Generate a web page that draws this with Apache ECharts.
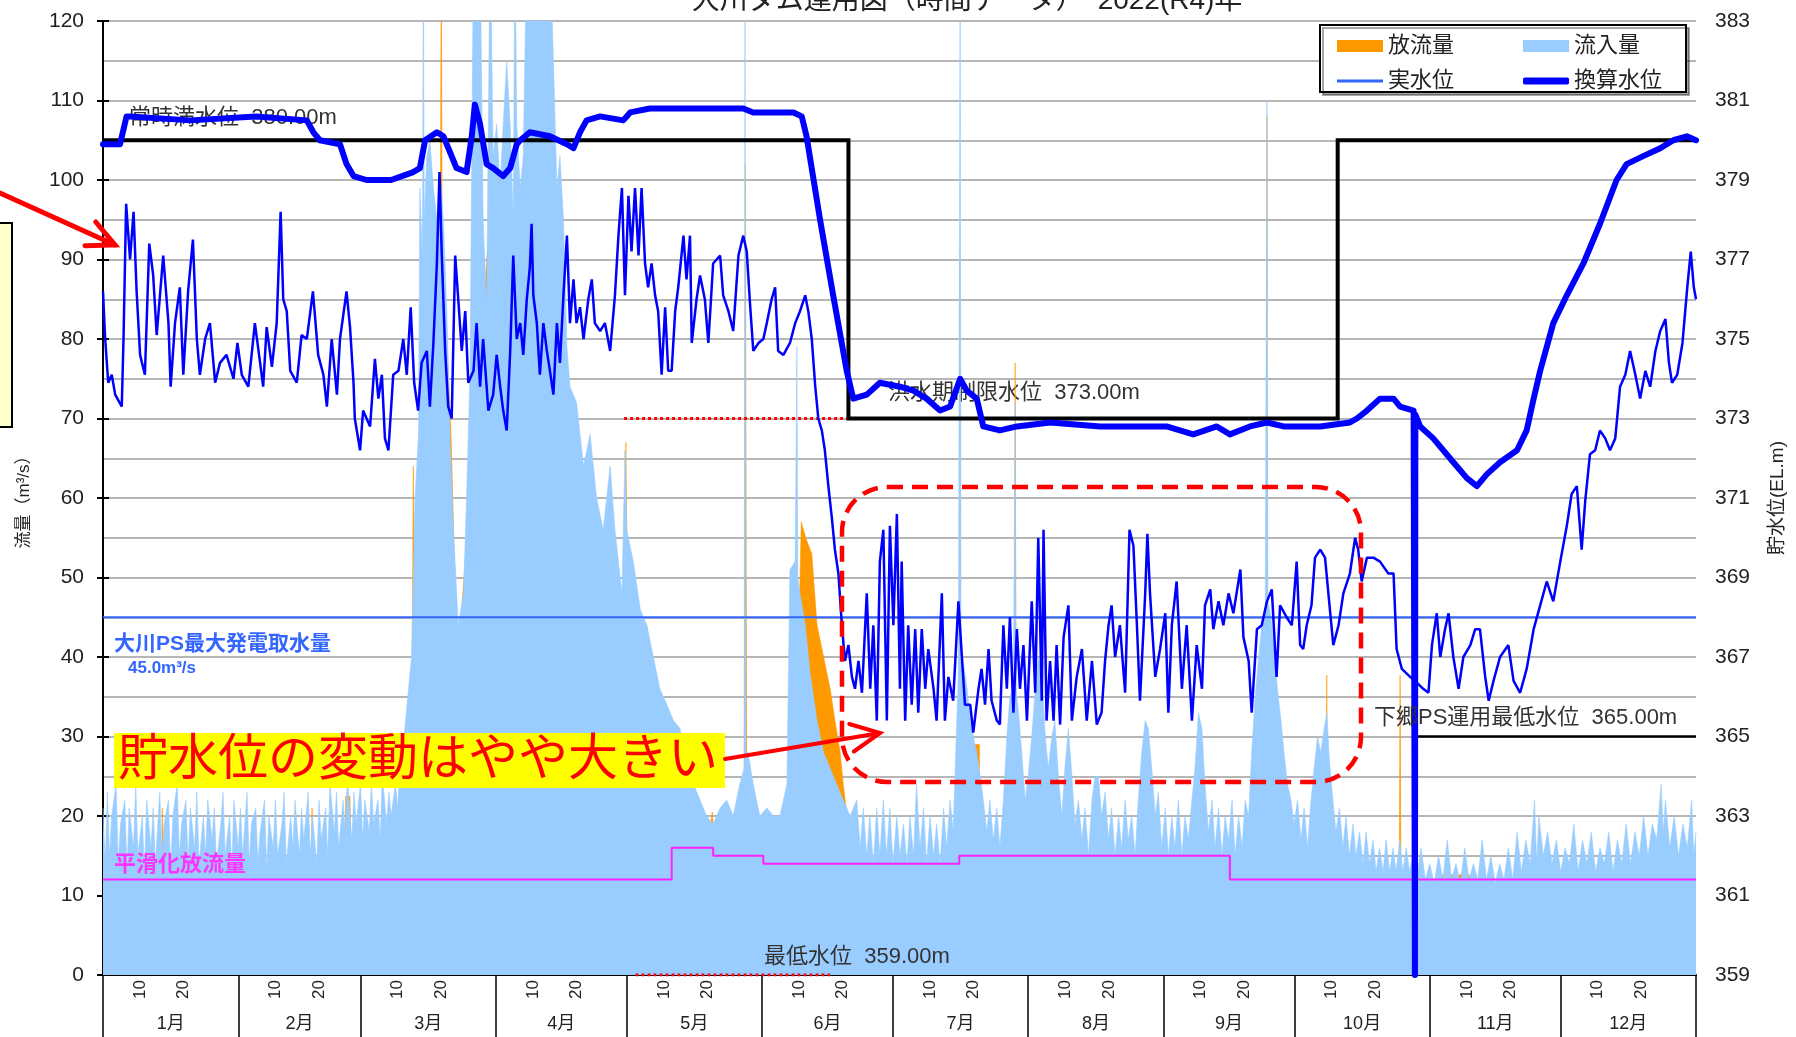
<!DOCTYPE html>
<html><head><meta charset="utf-8">
<script src="https://cdn.jsdelivr.net/npm/echarts@6/dist/echarts.min.js"></script>
<style>html,body{margin:0;padding:0;background:#fff}#c{width:1796px;height:1037px}</style>
</head><body><div id="c"></div>
<script>
// ---------- DATA (x = days since 1 Jan 2022) ----------
const monthStarts = [0,31,59,90,120,151,181,212,243,273,304,334,365];
const monthNames = ['1月','2月','3月','4月','5月','6月','7月','8月','9月','10月','11月','12月'];
const dayMarks = [10, 20];
const flowTicks = [0,10,20,30,40,50,60,70,80,90,100,110,120];
const levelTicks = [359,361,363,365,367,369,371,373,375,377,379,381,383];

// 流入量 (m3/s)
const inflow = [
[0,21],[0.5,14],[1,23],[1.5,15],[2,20],[3,24],[3.5,14],[4,19],[5,22],[5.5,13],[6,21],[7,16],[7.5,24],[8,15],[9,20],[9.5,13],[10,22],[11,16],[11.5,21],[12,14],[13,23],[13.5,15],[14,19],[15,22],[15.5,13],[16,20],[17,24],[17.5,15],[18,19],[19,22],[19.5,14],[20,21],[21,16],[21.5,23],[22,14],[23,20],[23.5,15],[24,22],[25,17],[25.5,21],[26,14],[27,19],[27.5,23],[28,15],[29,20],[29.5,13],[30,22],[31,16],[31.5,21],[32,15],[33,23],[33.5,14],[34,19],[35,21],[35.5,14],[36,18],[37,22],[37.5,13],[38,20],[39,16],[39.5,22],[40,15],[41,19],[41.5,23],[42,14],[43,20],[43.5,16],[44,22],[45,15],[45.5,21],[46,17],[47,23],[47.5,15],[48,20],[49,14],[49.5,22],[50,17],[51,21],[51.5,15],[52,24],[53,18],[53.5,23],[54,16],[55,22],[55.5,18],[56,25],[57,17],[57.5,23],[58,19],[59,24],[59.5,17],[60,22],[61,18],[61.5,24],[62,19],[63,22],[63.5,17],[64,25],[65,19],[65.5,23],[66,20],[67,24],[67.5,21],[68,26],[69,30],[69.5,33],[70,36],[70.7,40],[71.5,60],[72.3,68],[72.6,99],[73.2,90],[73.4,130],[73.6,95],[74.2,103],[74.9,105],[75.7,99],[76.5,95],[77.2,101],[78,95],[78.8,83],[79.5,68],[80.3,56],[81.4,44],[82.6,48],[83.3,60],[84.1,76],[84.9,130],[85.6,130],[86.4,130],[87.1,95],[87.9,84],[88.7,130],[89.4,103],[90.2,107],[91,99],[91.7,107],[92.5,115],[93.3,107],[94,95],[94.4,130],[94.8,107],[95.6,99],[96.3,103],[97.1,130],[98.6,130],[100.9,130],[102.4,130],[103.2,115],[104,99],[104.7,103],[105.5,95],[106.3,79],[107,74],[108.5,72],[110.1,64],[111.6,68],[113.1,60],[114.6,56],[116.2,64],[117.3,56],[118.9,48],[119.6,66],[120,56],[121.5,52],[123.1,46],[124.6,44],[126.1,40],[127.6,36],[129.2,34],[130.7,32],[132.2,31],[133.7,27],[135.3,24],[136.8,22],[138.3,20],[139.8,19],[141.4,21],[142.9,22],[144.4,20],[145.9,24],[146.9,26],[147.1,130],[147.3,28],[147.8,28],[149,24],[150.5,20],[152.1,21],[153.6,20],[155.1,20],[156.7,24],[157.4,51],[158.6,52],[159,79],[159.2,50],[159.7,48],[160.9,44],[162,38],[163.6,32],[165.1,28],[166.6,26],[168.1,24],[169.6,22],[171.2,20],[172.7,22],
[173.5,16],[174.2,21],[175,15],[175.7,20],[176.5,14],[177.3,21],[178,15],[178.8,22],[179.5,15],[180.3,21],[181,14],[181.9,20],[182.6,15],[183.4,19],[184.2,14],[184.9,20],[185.7,15],[186.4,24],[187.2,16],[188,21],[188.7,14],[189.5,20],[190.3,15],[191,19],[191.8,14],[192.6,21],[193.3,16],[194.1,22],[194.8,18],[195.5,30],[196,38],[196.4,130],[196.6,40],[197.2,39],[198,36],[198.7,32],[199.4,30],[200.2,28],[201,25],[201.7,22],[202.5,18],[203.2,22],[204,17],[204.8,21],[205.5,16],[206.3,22],[207.1,30],[207.8,35],[208.6,36],[209,72],[209.2,36],[209.8,33],[210.5,28],[211.3,22],[212,25],[212.8,30],[213.6,36],[214.3,40],[215.1,38],[215.9,30],[216.6,26],[217.4,30],[218.1,32],[218.9,25],[219.7,20],[220.4,26],[221.2,31],[222,25],[222.7,19],[223.5,22],[224.3,17],[225,21],[225.8,15],[226.6,22],[227.3,25],[228.1,25],[228.8,20],[229.6,23],[230.4,17],[231.1,21],[231.9,15],[232.7,20],[233.4,16],[234.2,22],[234.9,17],[235.7,20],[236.5,15],[237.2,22],[238,28],[238.8,32],[239.5,31],[240.3,26],[241.1,20],[241.8,23],[242.6,16],[243.4,21],[244.1,15],[244.9,20],[245.6,16],[246.4,22],[247.2,15],[247.9,20],[248.7,17],[249.5,22],[250.2,26],[251,33],[251.8,31],[252.5,24],[253.3,18],[254.1,22],[254.8,16],[255.6,21],[256.4,15],[257.1,20],[257.9,17],[258.7,22],[259.4,15],[260.2,20],[261,16],[261.7,22],[262.5,20],[263.2,28],[264,35],[264.8,40],[265.5,44],[266.3,46],[266.7,110],[266.9,47],[267.6,45],[268.4,40],[269.1,36],[269.9,32],[270.6,28],[271.4,24],[272.2,22],[272.9,19],[273.7,22],[274.5,17],[275.2,21],[276,16],[276.8,22],[277.5,26],[278.3,30],[279,28],[279.8,31],[280.4,33],[281,27],[281.8,22],[282.5,18],[283.3,21],[284.1,16],[284.8,20],[285.6,15],[286.4,19],[287.1,15],[287.9,18],[288.7,14],[289.4,18],[290.2,14],[291,17],[291.7,13],[292.5,16],[293.3,13],[294,17],[294.8,13],[295.6,16],[296.3,13],[297.1,17],[297.8,13],[298.6,16],[299.4,13],[300.1,15],
[301,12],[302,16],[303,12],[304,14],[305,11.5],[306,15],[307,12],[308,17],[309,12],[310,14],[311,11.5],[312,16],[313,12],[314,14],[315,12],[316,17],[317,12],[318,15],[319,11.5],[320,14],[321,12],[322,16],[323,12],[324,18],[325,13],[326,17],[327,14],[328,22],[328.5,14],[329,20],[330,15],[331,18],[332,14],[333,17],[334,13],[335,16],[336,14],[337,19],[338,13],[339,17],[340,14],[341,18],[342,13],[343,16],[344,14],[345,18],[346,13],[347,17],[348,14],[349,19],[350,14],[351,18],[352,15],[353,20],[354,15],[355,19],[356,17],[357,24],[357.5,18],[358,22],[359,16],[360,20],[361,15],[362,19],[363,16],[364,22],[364.5,15],[365,18]
];

// 放流量 (m3/s)
const outflow = [
[0,12],[13.4,12],[13.6,21],[13.9,12],[47.7,12],[47.9,21],[48.2,12],[55.4,12],[55.6,22.5],[56.6,22.5],[56.8,12],[68,15],[70.8,35],[71.1,64],[71.4,45],[72.6,70],[77.3,95],[77.5,130],[77.7,95],[79.8,67],[80.2,67],[80.6,50],[81.4,40],[88.6,95],[88.8,130],[89,100],[92,100],[106.8,71],[107.2,71],[108.5,60],[110,55],[113,50],[116,45],[118.9,42],[119.6,45],[119.8,67],[120.2,45],[123.1,40],[124.6,44],[125,44],[126.1,36],[128,30],[131,27],[134,22],[137,19],[139,18],[139.6,20.5],[140,17],[146.9,18],[147.2,102],[147.5,20],[150,17],[157.3,17],[157.5,40],[159.5,45],[160,57],[161,55],[162.4,53],[163.6,44],[165.1,40],[166.6,36],[167.7,32],[168.9,28],[169.6,24],[170.5,20],[172,13],[196.1,13],[196.3,90],[196.6,13],[199.5,13],[199.6,29],[200.8,29],[200.9,13],[208.8,13],[209,77],[209.3,13],[266.5,13],[266.7,108],[266.9,13],[280.2,12],[280.4,37.7],[280.6,12],[297,12],[297.2,37.7],[297.4,12],[301,11.8],[305,11.8],[306,12.6],[313,12.6],[314,11.5],[365,11.5]
];

// 実水位 (EL.m)
const actualLevel = [
[0,376.2],[0.5,375.0],[0.8,375.0],[1.2,373.9],[2.0,374.1],[2.8,373.6],[4.3,373.3],[4.7,375.0],[5.3,378.4],[6.2,377.0],[7.0,378.2],[7.7,376.2],[8.5,374.6],[9.6,374.1],[10.6,377.4],[11.5,376.6],[12.3,375.1],[13.8,377.1],[15.0,375.4],[15.5,373.8],[16.5,375.4],[17.6,376.3],[18.4,374.1],[19.5,376.2],[20.6,377.5],[21.5,375.0],[22.2,374.1],[23.4,375.0],[24.5,375.4],[25.7,373.9],[26.8,374.4],[28.3,374.6],[29.9,374.0],[30.8,374.9],[31.8,374.1],[33.3,373.8],[34.8,375.4],[36.0,374.4],[36.7,373.8],[37.5,375.3],[38.7,374.3],[39.8,375.4],[40.7,378.2],[41.3,376.0],[42.1,375.7],[42.9,374.2],[44.4,373.9],[45.5,375.1],[46.7,375.0],[48.1,376.2],[49.3,374.6],[50.5,374.1],[51.3,373.3],[52.4,375.0],[53.6,373.6],[54.3,375.0],[55.8,376.2],[56.6,375.3],[57.4,373.9],[57.7,373.0],[58.9,372.2],[59.6,373.2],[61.2,372.8],[62.3,374.5],[63.1,373.5],[63.9,374.1],[64.6,372.5],[65.4,372.2],[66.5,374.1],[67.7,374.2],[68.8,375.0],[69.6,374.1],[70.5,375.8],[71.3,373.9],[72.2,373.2],[73.0,374.4],[74.2,374.7],[74.9,373.3],[75.7,374.9],[76.5,376.9],[77.1,379.2],[77.6,377.2],[78.4,374.7],[79.1,373.3],[79.9,373.0],[80.7,377.1],[81.4,376.0],[82.2,374.7],[83.0,375.7],[83.7,373.9],[84.9,374.2],[85.6,375.4],[86.4,373.8],[87.1,375.0],[88.3,373.2],[89.4,373.6],[90.2,374.6],[91.0,373.8],[91.7,373.2],[92.5,372.7],[93.3,374.7],[94.0,377.1],[94.8,375.0],[95.6,375.4],[96.3,374.6],[97.1,376.0],[97.8,376.8],[98.2,377.9],[98.6,376.1],[99.4,375.4],[100.1,374.1],[100.9,375.4],[101.7,374.7],[102.4,374.2],[103.2,373.6],[104.0,375.4],[104.7,374.4],[105.5,376.1],[106.3,377.6],[107.0,375.4],[107.8,376.5],[108.5,375.4],[109.3,375.8],[110.1,375.0],[111.2,376.0],[112.0,376.5],[112.7,375.4],[113.9,375.2],[115.0,375.4],[116.2,374.7],[117.3,376.1],[118.1,377.6],[118.9,378.8],[119.6,376.1],[120.4,378.6],[121.1,377.2],[121.9,378.8],[122.7,377.1],[123.4,378.8],[124.2,376.9],[124.9,376.3],[125.7,376.9],[126.5,376.1],[127.2,375.7],[128.0,374.1],[128.8,375.8],[129.5,374.2],[130.3,374.2],[131.1,375.7],[131.8,376.3],[133.0,377.6],[133.7,376.5],[134.5,377.6],[134.9,374.9],[136.0,376.0],[136.8,376.6],[137.9,376.0],[138.7,374.9],[139.8,376.9],[141.4,377.1],[142.1,376.1],[143.3,375.7],[144.4,375.2],[145.6,377.1],[146.7,377.6],[147.5,377.2],[148.3,375.8],[149.0,374.7],[150.2,374.9],[151.3,375.0],[152.1,375.4],[153.2,376.0],[154.0,376.3],[154.7,374.7],[155.9,374.6],[157.4,374.9],[158.6,375.4],[159.7,375.7],[160.9,376.1],[161.6,375.7],[162.4,375.0],[163.2,373.8],[163.9,373.0],[164.7,372.7],[165.4,372.2],[166.2,371.3],[167.0,370.5],[167.7,369.7],[168.5,369.1],[169.3,367.8],[170.0,366.9],[170.8,367.3],[171.6,366.5],[172.3,366.2],[173.1,366.9],[173.9,366.1],[175.0,368.6],[175.8,366.2],[176.5,367.8],[177.3,365.4],[178.0,369.4],[178.8,370.2],[179.6,365.4],[180.3,370.3],[181.1,367.8],[181.9,370.6],[182.6,366.2],
[183.0,369.4],[183.8,365.4],[184.5,367.8],[185.3,365.8],[186.1,367.7],[186.8,365.6],[187.6,367.7],[188.4,366.2],[189.1,367.2],[190.3,366.2],[191.0,365.4],[192.2,368.6],[192.9,365.4],[193.7,366.5],[194.8,365.9],[196.0,368.4],[196.8,367.0],[197.5,365.8],[198.7,365.8],[199.4,365.1],[200.6,366.2],[201.3,366.7],[202.1,365.8],[202.9,367.2],[203.6,365.9],[204.8,365.4],[205.5,365.3],[206.3,367.8],[207.1,366.2],[207.8,368.0],[208.6,365.6],[209.4,367.7],[210.1,366.2],[210.9,367.3],[211.7,365.4],[212.8,368.4],[213.6,366.1],[214.3,370.0],[215.1,365.9],[215.5,370.2],[216.2,365.4],[217.0,366.9],[217.8,365.4],[218.5,367.3],[219.3,365.3],[220.1,367.5],[221.2,368.3],[222.0,365.4],[223.1,366.5],[224.3,367.2],[225.4,365.4],[226.6,366.9],[227.7,365.3],[228.8,365.6],[229.6,366.9],[230.4,367.8],[231.1,368.3],[231.9,367.0],[233.0,367.8],[234.2,366.1],[235.2,370.2],[236.1,369.8],[236.9,367.8],[237.6,365.9],[238.8,368.6],[239.3,370.1],[239.9,368.6],[241.1,366.5],[242.2,367.2],[243.4,368.1],[244.1,365.6],[244.9,367.8],[246.0,368.9],[247.2,366.2],[248.3,367.8],[249.5,365.4],[250.6,367.3],[251.8,366.2],[252.5,368.3],[253.7,368.7],[254.4,367.7],[255.6,368.4],[256.7,367.8],[257.9,368.6],[259.0,368.1],[260.6,369.2],[261.3,367.5],[262.5,366.9],[263.2,365.6],[264.4,367.7],[265.5,367.8],[266.7,368.4],[267.8,368.7],[268.9,366.5],[269.7,368.3],[271.2,368.0],[272.4,367.8],[273.5,369.4],[274.3,367.3],[275.0,367.2],[275.8,367.8],[276.9,368.3],[277.7,369.5],[278.9,369.7],
[280.0,369.5],[281.2,368.1],[281.9,367.3],[283.1,367.8],[284.2,368.6],[285.7,369.1],[286.9,370.0],[287.6,369.7],[288.4,368.9],[289.6,369.5],[291.1,369.5],[292.6,369.4],[294.5,369.1],[295.7,369.1],[296.4,367.2],[297.6,366.7],[299.5,366.5],[300.6,366.4],[302.5,366.2],[303.7,366.1],[304.5,367.3],[305.6,368.1],[306.4,367.0],[307.5,367.7],[308.3,368.1],[309.4,367.0],[310.6,366.2],[311.7,367.0],[313.3,367.3],[314.4,367.7],[315.5,367.7],[316.7,366.5],[317.5,365.9],[318.6,366.4],[320.1,367.0],[322.0,367.3],[323.2,366.4],[324.7,366.1],[326.2,366.7],[327.8,367.7],[329.3,368.3],[330.8,368.9],[332.3,368.4],[333.9,369.4],[335.4,370.3],[336.5,371.1],[337.7,371.3],[338.8,369.7],[339.6,370.9],[340.7,372.1],[341.9,372.2],[343.0,372.7],[344.2,372.5],[345.3,372.2],[346.5,372.5],[347.6,373.8],[348.8,374.1],[349.9,374.7],[351.1,374.1],[352.2,373.5],[353.4,374.2],[354.5,373.8],[355.7,374.7],[356.8,375.2],[358.0,375.5],[358.8,374.4],[359.5,373.9],[360.7,374.1],[361.9,374.9],[363.0,376.3],[363.8,377.2],[364.5,376.3],[365,376.0]
];

// 換算水位 (EL.m)
const convertedLevel = [
[0,379.9],[3.9,379.9],[5.4,380.6],[6.2,380.6],[20,380.5],[35,380.6],[46.7,380.5],[48.2,380.2],[49.7,380.0],[54.3,379.9],[55.8,379.4],[57.4,379.1],[60.4,379.0],[66,379.0],[71.1,379.2],[72.6,379.3],[73.8,380.0],[76.5,380.2],[78.0,380.1],[79.5,379.7],[81.0,379.3],[83.3,379.2],[84.5,380.1],[85.2,380.9],[86.4,380.4],[87.9,379.4],[89.4,379.3],[91.7,379.1],[93.3,379.3],[94.8,379.9],[95.6,380.0],[97.8,380.2],[102.4,380.1],[106.3,379.9],[107.8,379.8],[109.3,380.2],[110.8,380.5],[113.9,380.6],[119.2,380.5],[120.8,380.7],[125.3,380.8],[136.8,380.8],[146.7,380.8],[149.0,380.7],[158.2,380.7],[160.1,380.6],[161.2,380.1],[164.3,378.0],[167.3,376.1],[170.4,374.2],[171.9,373.5],[175.0,373.6],[178.0,373.9],[182.6,373.8],[185.7,373.7],[188.7,373.5],[191.8,373.2],[194.1,373.3],[196.4,374.0],[197.9,373.7],[200.2,373.5],[201.7,372.8],[205.5,372.7],[209.4,372.8],[217.0,372.9],[228.5,372.8],[236.1,372.8],[243.7,372.8],[249.8,372.6],[255.2,372.8],[258.2,372.6],[262.8,372.8],[266.7,372.9],[270.5,372.8],[274.3,372.8],[278.9,372.8],[285.7,372.9],[287.3,373.0],[289.6,373.2],[292.6,373.5],[295.7,373.5],[297.2,373.3],[300.3,373.2],[300.6,359],[300.7,373.1],[301.8,372.8],[304.8,372.5],[309.4,371.9],[312.5,371.5],[314.8,371.3],[317.1,371.6],[320.1,371.9],[324.0,372.2],[326.2,372.7],[327.8,373.5],[329.3,374.2],[332.3,375.4],[335.4,376.1],[339.2,376.9],[343.0,377.9],[346.8,379.0],[349.1,379.4],[352.9,379.6],[356.8,379.8],[359.8,380.0],[362.9,380.1],[365,380.0]
];

// reference lines
const smoothRelease = [[0,12],[130.3,12],[130.3,16],[139.8,16],[139.8,15],[151.3,15],[151.3,14],[196.2,14],[196.2,15],[258.2,15],[258.2,12],[365,12]];
const maxIntake = [[0,45],[365,45]];
const seasonLimit = [[0,380],[170.8,380],[170.8,373],[282.9,373],[282.9,380],[365,380]];
const minOperation = [[300.6,365],[365,365]];
const redRefUpper = [[119.4,373],[170.8,373]];
const redRefLower = [[122,359],[166.6,359]];

// ---------- CHART ----------
const FONT = "'Liberation Sans', Arial, 'Noto Sans CJK JP', sans-serif";
const dayLabelVals = [], dayLabelMap = {};
monthStarts.slice(0,12).forEach(s => dayMarks.forEach(d => { const v = s + d - 1.5; dayLabelVals.push(v); dayLabelMap[v.toFixed(2)] = String(d); }));
const monthMids = [], monthMap = {};
for (let i = 0; i < 12; i++) { const v = (monthStarts[i] + monthStarts[i+1]) / 2; monthMids.push(v); monthMap[v.toFixed(2)] = monthNames[i]; }

function arrow(x1, y1, x2, y2, len, w) {
  const a = Math.atan2(y2 - y1, x2 - x1), sp = 0.45;
  const p1 = [x2 - len * Math.cos(a - sp), y2 - len * Math.sin(a - sp)];
  const p2 = [x2 - len * Math.cos(a + sp), y2 - len * Math.sin(a + sp)];
  return [
    {type:'line', shape:{x1,y1,x2,y2}, style:{stroke:'#ff0000', lineWidth:w, lineCap:'round'}, z:100},
    {type:'polyline', shape:{points:[p1,[x2,y2],p2]}, style:{stroke:'#ff0000', lineWidth:w, fill:null, lineJoin:'miter', lineCap:'round'}, z:100}
  ];
}
function txt(x, y, t, size, color, weight, z, align) {
  return {type:'text', x, y, z: z, style:{text:t, font:`${weight||'normal'} ${size}px ${FONT}`, fill:color, align: align||'left', verticalAlign:'middle', textAlign: align||'left', textVerticalAlign:'middle'}};
}
const legendText = {fontSize:22, color:'#222', fontFamily:FONT};

const chart = echarts.init(document.getElementById('c'), null, {renderer:'canvas'});
const option = {
  animation:false,
  backgroundColor:'#fff',
  textStyle:{fontFamily:FONT},
  grid:{left:103, right:100, top:21, bottom:62, containLabel:false},
  legend:[
    {data:[{name:'放流量',icon:'rect'},{name:'流入量',icon:'rect'}], left:1332, top:30, itemWidth:46, itemHeight:12, itemGap:69, selectedMode:false, z:6, textStyle:legendText},
    {data:[{name:'実水位',icon:'rect',itemStyle:{color:'#3366ff'}}], left:1332, top:65, itemWidth:46, itemHeight:3, selectedMode:false, z:6, textStyle:legendText},
    {data:[{name:'換算水位',icon:'roundRect',itemStyle:{color:'#0000ff'}}], left:1518, top:65, itemWidth:46, itemHeight:7, selectedMode:false, z:6, textStyle:legendText}
  ],
  xAxis:[
    {type:'value', min:0, max:365, position:'bottom',
     axisLine:{show:true, onZero:false, lineStyle:{color:'#000', width:2}},
     axisTick:{show:true, customValues:monthStarts, length:62, inside:false, lineStyle:{color:'#000', width:1.5}},
     axisLabel:{customValues:dayLabelVals, rotate:90, margin:5, fontSize:17, color:'#222', fontFamily:FONT,
                formatter:v => dayLabelMap[(+v).toFixed(2)] || ''},
     splitLine:{show:false}},
    {type:'value', min:0, max:365, position:'bottom', offset:0,
     axisLine:{show:false}, axisTick:{show:false}, splitLine:{show:false},
     axisLabel:{customValues:monthMids, margin:40, fontSize:18, color:'#222', fontFamily:FONT,
                formatter:v => monthMap[(+v).toFixed(2)] || ''}}
  ],
  yAxis:[
    {type:'value', min:0, max:120, interval:10, position:'left',
     name:'流量（m³/s）', nameLocation:'middle', nameRotate:90, nameGap:70,
     nameTextStyle:{fontSize:17, color:'#222', fontFamily:FONT},
     axisLine:{show:true, lineStyle:{color:'#000', width:2}},
     axisTick:{show:true, inside:true, length:6, lineStyle:{color:'#000', width:2}},
     axisLabel:{fontSize:21, color:'#222', margin:19, fontFamily:FONT, customValues:flowTicks},
     splitLine:{show:true, lineStyle:{color:'#9e9e9e', width:1.5}},
     minorTick:{show:false, splitNumber:2},
     minorSplitLine:{show:true, lineStyle:{color:'#9e9e9e', width:1.5}}},
    {type:'value', min:359, max:383, position:'right',
     name:'貯水位(EL.m)', nameLocation:'middle', nameRotate:90, nameGap:72,
     nameTextStyle:{fontSize:19, color:'#222', fontFamily:FONT},
     axisLine:{show:true, lineStyle:{color:'#000', width:2}},
     axisTick:{show:true, inside:true, length:6, customValues:levelTicks, lineStyle:{color:'#000', width:2}},
     axisLabel:{customValues:levelTicks, fontSize:21, color:'#222', margin:19, fontFamily:FONT},
     splitLine:{show:false}}
  ],
  series:[
    {name:'放流量', type:'line', data:outflow, yAxisIndex:0, symbol:'none', z:1,
     itemStyle:{color:'#ff9900'}, lineStyle:{width:0.6, color:'#ff9900'}, areaStyle:{color:'#ff9900', opacity:1}},
    {name:'流入量', type:'line', data:inflow, yAxisIndex:0, symbol:'none', z:2,
     itemStyle:{color:'#99ccff'}, lineStyle:{width:0.6, color:'#99ccff'}, areaStyle:{color:'#99ccff', opacity:1}},
    {name:'平滑化放流量', type:'line', data:smoothRelease, yAxisIndex:0, symbol:'none', z:3, lineStyle:{width:2, color:'#ff22ff'}},
    {name:'大川PS最大発電取水量', type:'line', data:maxIntake, yAxisIndex:0, symbol:'none', z:3, lineStyle:{width:2, color:'#3366ff'}},
    {name:'ref1', type:'line', data:redRefUpper, yAxisIndex:1, symbol:'none', z:3, lineStyle:{width:3, color:'#ff0000', type:'dotted'}},
    {name:'ref2', type:'line', data:redRefLower, yAxisIndex:1, symbol:'none', z:3, lineStyle:{width:3, color:'#ff0000', type:'dotted'}},
    {name:'制限水位', type:'line', data:seasonLimit, yAxisIndex:1, symbol:'none', z:3, lineStyle:{width:4, color:'#000', join:'miter'}},
    {name:'下郷PS運用最低水位', type:'line', data:minOperation, yAxisIndex:1, symbol:'none', z:3, lineStyle:{width:2.5, color:'#000'}},
    {name:'実水位', type:'line', data:actualLevel, yAxisIndex:1, symbol:'none', z:4, itemStyle:{color:'#0000ff'}, lineStyle:{width:2.5, color:'#0000ff'}},
    {name:'換算水位', type:'line', data:convertedLevel, yAxisIndex:1, symbol:'none', z:5, itemStyle:{color:'#0000ff'}, lineStyle:{width:6, color:'#0000ff', cap:'round', join:'round'}}
  ],
  graphic:{elements:[
    {type:'rect', shape:{x:1320, y:25, width:366, height:67}, style:{fill:'#fff', stroke:'#000', lineWidth:2, shadowColor:'rgba(0,0,0,0.35)', shadowOffsetX:3, shadowOffsetY:3, shadowBlur:0}, z:5},
    txt(967, 1, '大川ダム運用図（時間データ）　2022(R4)年', 28, '#222', 'normal', 10, 'center'),
    txt(129, 118, '常時満水位  380.00m', 22, '#333', 'normal', 1),
    txt(888, 393, '洪水期制限水位  373.00m', 22, '#333', 'normal', 1),
    txt(1374, 718, '下郷PS運用最低水位  365.00m', 22, '#333', 'normal', 10),
    txt(764, 957, '最低水位  359.00m', 22, '#333', 'normal', 10),
    txt(114, 644, '大川PS最大発電取水量', 21, '#3366ff', 'bold', 10),
    txt(128, 668, '45.0m³/s', 17, '#3366ff', 'bold', 10),
    txt(114, 865, '平滑化放流量', 22, '#ff33ff', 'bold', 10),
    {type:'rect', shape:{x:-5, y:223, width:17, height:204}, style:{fill:'#ffffcc', stroke:'#000', lineWidth:2}, z:100},
    ...arrow(0, 193, 115, 245, 30, 5),
    {type:'rect', shape:{x:114, y:733, width:611, height:55}, style:{fill:'#ffff00'}, z:100},
    txt(118, 761, '貯水位の変動はやや大きい', 50, '#ff0000', 'normal', 101),
    ...arrow(725, 759, 880, 733, 32, 4),
    {type:'rect', shape:{x:842, y:487, width:519, height:295, r:45}, style:{fill:null, stroke:'#ff0000', lineWidth:4.5, lineDash:[16,9]}, z:100}
  ]}
};
chart.setOption(option);
</script></body></html>
